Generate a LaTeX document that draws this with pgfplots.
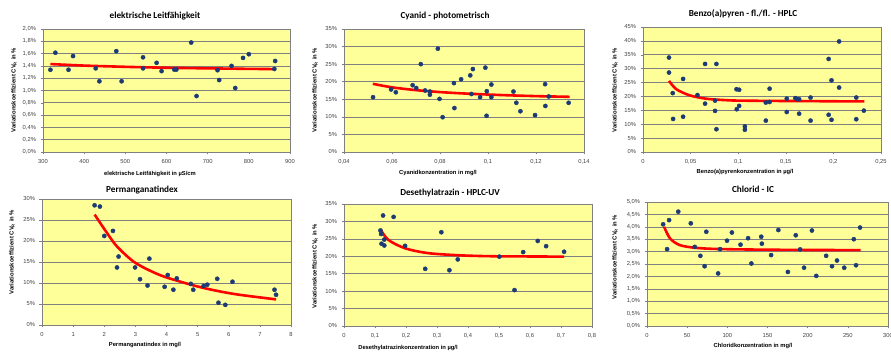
\documentclass[border=0pt]{standalone}
\usepackage{fontspec}
\setmainfont{Liberation Sans}
\newfontfamily\titlefont{Carlito}
\usepackage{pgfplots}
\pgfplotsset{compat=1.18}
\definecolor{plotyellow}{RGB}{255,255,153}
\definecolor{dotblue}{RGB}{28,58,118}
\definecolor{fitred}{RGB}{255,0,0}
\definecolor{gridgray}{RGB}{128,128,128}
\pgfplotsset{
  panel/.style={
    scale only axis,
    axis background/.style={fill=plotyellow},
    axis line style={gridgray, line width=0.6pt},
    ymajorgrids,
    grid style={gridgray, line width=0.6pt},
    tick align=outside, tick pos=left,
    major tick length=2.5pt,
    tick style={gridgray, line width=0.5pt},
    ticklabel style={font=\fontsize{5.8}{6}\selectfont, text=black!75},
    xticklabel style={yshift=-1pt},
    yticklabel style={xshift=-1pt},
  },
  dots/.style={only marks, mark=*, mark size=2.1pt, mark options={fill=dotblue, draw=dotblue}},
  fit/.style={no marks, smooth, fitred, line width=2.6pt},
}
\newcommand{\ttl}[1]{{\titlefont\bfseries\fontsize{9.2}{10}\selectfont #1}}
\newcommand{\xl}[1]{{\bfseries\fontsize{5.8}{6}\selectfont #1}}
\newcommand{\yl}{{\bfseries\fontsize{5.9}{6}\selectfont Variationskoeffizient CV\textsubscript{R} in \%}}
\begin{document}
\begin{tikzpicture}
\useasboundingbox (0,0) rectangle (891pt,353pt);
% Panel 1
\begin{axis}[panel, at={(43pt,201pt)}, anchor=south west, width=247pt, height=123pt,
  xmin=300, xmax=900, ymin=0, ymax=2.0,
  xtick={300,400,500,600,700,800,900}, xticklabels={300,400,500,600,700,800,900},
  ytick={0,0.2,0.4,0.6,0.8,1.0,1.2,1.4,1.6,1.8,2.0},
  yticklabels={{0,0\%},{0,2\%},{0,4\%},{0,6\%},{0,8\%},{1,0\%},{1,2\%},{1,4\%},{1,6\%},{1,8\%},{2,0\%}}]
\addplot[dots] coordinates {
(318,1.337)(330,1.614)(362,1.337)(373,1.56)(428,1.36)(437,1.15)(478,1.64)(491,1.15)
(543,1.54)(543,1.36)(576,1.45)(588,1.315)(619,1.34)(624,1.34)(660,1.78)(673,0.91)
(724,1.33)(728,1.17)(758,1.40)(767,1.04)(786,1.53)(800,1.59)(862,1.35)(864,1.48)};
\addplot[fit] coordinates {(318,1.43)(400,1.405)(500,1.385)(600,1.37)(700,1.36)(800,1.352)(864,1.348)};
\end{axis}
% Panel 2
\begin{axis}[panel, at={(344pt,201pt)}, anchor=south west, width=240pt, height=123pt,
  xmin=0.04, xmax=0.14, ymin=0, ymax=35,
  xtick={0.04,0.06,0.08,0.1,0.12,0.14}, xticklabels={{0,04},{0,06},{0,08},{0,1},{0,12},{0,14}},
  ytick={0,5,10,15,20,25,30,35}, yticklabels={0\%,5\%,10\%,15\%,20\%,25\%,30\%,35\%}]
\addplot[dots] coordinates {
(0.0521,15.6)(0.0596,17.8)(0.0616,17.0)(0.0686,19.0)(0.0701,18.2)(0.0720,25.0)(0.0738,17.5)
(0.0758,17.2)(0.0758,16.3)(0.0791,29.4)(0.0798,15.1)(0.0811,9.9)(0.0858,19.6)(0.0860,12.5)
(0.0888,20.7)(0.0926,21.8)(0.0931,16.5)(0.0937,23.6)(0.0967,15.6)(0.0989,24.0)(0.0994,10.3)
(0.0995,17.3)(0.1014,19.2)(0.1014,15.6)(0.1106,17.2)(0.1118,14.0)(0.1135,11.6)(0.1196,10.5)
(0.1238,19.3)(0.1239,13.1)(0.1253,15.8)(0.1336,14.0)};
\addplot[fit] coordinates {(0.052,19.4)(0.06,18.4)(0.07,17.6)(0.08,17.05)(0.09,16.65)(0.10,16.35)(0.11,16.1)(0.12,15.9)(0.134,15.7)};
\end{axis}
% Panel 3
\begin{axis}[panel, at={(643pt,201pt)}, anchor=south west, width=238pt, height=125pt,
  xmin=0, xmax=0.25, ymin=0, ymax=45,
  xtick={0,0.05,0.1,0.15,0.2,0.25}, xticklabels={0,{0,05},{0,1},{0,15},{0,2},{0,25}},
  ytick={0,5,10,15,20,25,30,35,40,45}, yticklabels={0\%,5\%,10\%,15\%,20\%,25\%,30\%,35\%,40\%,45\%}]
\addplot[dots] coordinates {
(0.0273,34.0)(0.0273,28.6)(0.0312,21.2)(0.0316,11.9)(0.0421,26.3)(0.0421,12.7)(0.0572,20.5)
(0.0652,31.7)(0.0652,17.4)(0.0757,18.5)(0.0757,14.8)(0.0771,31.7)(0.0771,8.2)(0.0982,22.6)
(0.0985,15.4)(0.101,22.4)(0.101,16.6)(0.107,9.2)(0.107,8.0)(0.129,17.8)(0.129,11.3)
(0.133,22.8)(0.133,18.0)(0.151,19.2)(0.151,14.4)(0.160,19.4)(0.162,19.0)(0.164,19.0)
(0.164,13.8)(0.176,19.6)(0.176,11.3)(0.195,33.5)(0.195,13.4)(0.198,25.8)(0.198,11.6)
(0.206,39.8)(0.206,23.2)(0.224,19.6)(0.224,11.8)(0.232,14.9)};
\addplot[fit] coordinates {(0.0273,25.6)(0.035,22.6)(0.049,20.4)(0.066,19.2)(0.085,18.7)(0.101,18.5)(0.154,18.35)(0.2325,18.2)};
\end{axis}
% Panel 4
\begin{axis}[panel, at={(42pt,28pt)}, anchor=south west, width=249pt, height=126pt,
  xmin=0, xmax=8, ymin=0, ymax=30,
  xtick={0,1,2,3,4,5,6,7,8}, xticklabels={0,1,2,3,4,5,6,7,8},
  ytick={0,5,10,15,20,25,30}, yticklabels={0\%,5\%,10\%,15\%,20\%,25\%,30\%}]
\addplot[dots] coordinates {
(1.69,28.5)(1.86,28.2)(2.00,21.2)(2.28,22.4)(2.46,16.3)(2.41,13.7)(2.99,13.7)(3.15,10.9)
(3.39,9.4)(3.45,15.8)(3.94,9.1)(4.04,11.9)(4.22,8.4)(4.33,11.1)(4.78,9.8)(4.86,8.4)
(5.19,9.3)(5.31,9.6)(5.63,11.0)(5.67,5.3)(5.89,4.8)(6.12,10.3)(7.47,8.4)(7.52,7.2)};
\addplot[fit] coordinates {(1.69,26.3)(2.09,21.9)(2.41,18.7)(2.94,15.1)(3.48,12.9)(4.01,11.3)(5.09,9.0)(6.16,7.4)(7.52,6.1)};
\end{axis}
% Panel 5
\begin{axis}[panel, at={(344pt,27pt)}, anchor=south west, width=248pt, height=122pt,
  xmin=0, xmax=0.8, ymin=0, ymax=35,
  xtick={0,0.1,0.2,0.3,0.4,0.5,0.6,0.7,0.8}, xticklabels={0,{0,1},{0,2},{0,3},{0,4},{0,5},{0,6},{0,7},{0,8}},
  ytick={0,5,10,15,20,25,30,35}, yticklabels={0\%,5\%,10\%,15\%,20\%,25\%,30\%,35\%}]
\addplot[dots] coordinates {
(0.1176,27.4)(0.1197,26.4)(0.121,23.6)(0.126,31.7)(0.130,24.8)(0.130,23.1)(0.160,31.3)
(0.197,23.0)(0.262,16.4)(0.314,26.9)(0.340,16.0)(0.367,19.1)(0.501,19.9)(0.550,10.3)
(0.578,21.2)(0.625,24.4)(0.652,22.9)(0.710,21.3)};
\addplot[fit] coordinates {(0.117,27.8)(0.143,24.7)(0.197,22.3)(0.272,20.9)(0.38,20.25)(0.488,20.0)(0.60,19.95)(0.71,19.9)};
\end{axis}
% Panel 6
\begin{axis}[panel, at={(647pt,27pt)}, anchor=south west, width=241pt, height=124pt,
  xmin=0, xmax=300, ymin=0, ymax=5,
  xtick={0,50,100,150,200,250,300}, xticklabels={0,50,100,150,200,250,300},
  ytick={0,0.5,1,1.5,2,2.5,3,3.5,4,4.5,5},
  yticklabels={{0,0\%},{0,5\%},{1,0\%},{1,5\%},{2,0\%},{2,5\%},{3,0\%},{3,5\%},{4,0\%},{4,5\%},{5,0\%}}]
\addplot[dots] coordinates {
(20.1,4.10)(25.0,3.10)(27.5,4.27)(38.9,4.61)(54.5,4.14)(59.4,3.19)(66.4,2.83)(71.7,2.41)
(73.8,3.80)(88.5,2.12)(91.0,3.10)(99.6,3.44)(105.7,3.77)(116.4,3.28)(125.8,3.54)(129.9,2.52)
(142.2,3.60)(143.0,3.32)(154.5,2.86)(163.5,3.87)(175.4,2.18)(185.2,3.66)(190.6,3.09)(195.5,2.35)
(205.3,3.85)(210.7,2.02)(223.0,2.83)(230.3,2.41)(236.5,2.64)(245.5,2.35)(257.4,3.50)(260.2,2.45)
(265.2,3.97)};
\addplot[fit] coordinates {(21.3,4.0)(28.7,3.53)(41,3.26)(61.5,3.15)(94,3.10)(176,3.07)(266,3.06)};
\end{axis}
% Titles
\node at (155pt,337pt) {\ttl{elektrische Leitfähigkeit}};
\node at (445pt,337pt) {\ttl{Cyanid - photometrisch}};
\node at (743pt,339pt) {\ttl{Benzo(a)pyren - fl./fl. - HPLC}};
\node at (142pt,163pt) {\ttl{Permanganatindex}};
\node at (450pt,160pt) {\ttl{Desethylatrazin - HPLC-UV}};
\node at (753pt,164pt) {\ttl{Chlorid - IC}};
% x labels
\node at (150pt,179pt) {\xl{elektrische Leitfähigkeit in µS/cm}};
\node at (438pt,180pt) {\xl{Cyanidkonzentration in mg/l}};
\node at (745pt,181pt) {\xl{Benzo(a)pyrenkonzentration in µg/l}};
\node at (145pt,8pt) {\xl{Permanganatindex in mg/l}};
\node at (408pt,5pt) {\xl{Desethylatrazinkonzentration in µg/l}};
\node at (753pt,7pt) {\xl{Chloridkonzentration in mg/l}};
% y labels
\node[rotate=90] at (14pt,263pt) {\yl};
\node[rotate=90] at (315pt,263pt) {\yl};
\node[rotate=90] at (615pt,263pt) {\yl};
\node[rotate=90] at (12pt,101pt) {\yl};
\node[rotate=90] at (315pt,87pt) {\yl};
\node[rotate=90] at (615pt,96pt) {\yl};
\end{tikzpicture}
\end{document}
